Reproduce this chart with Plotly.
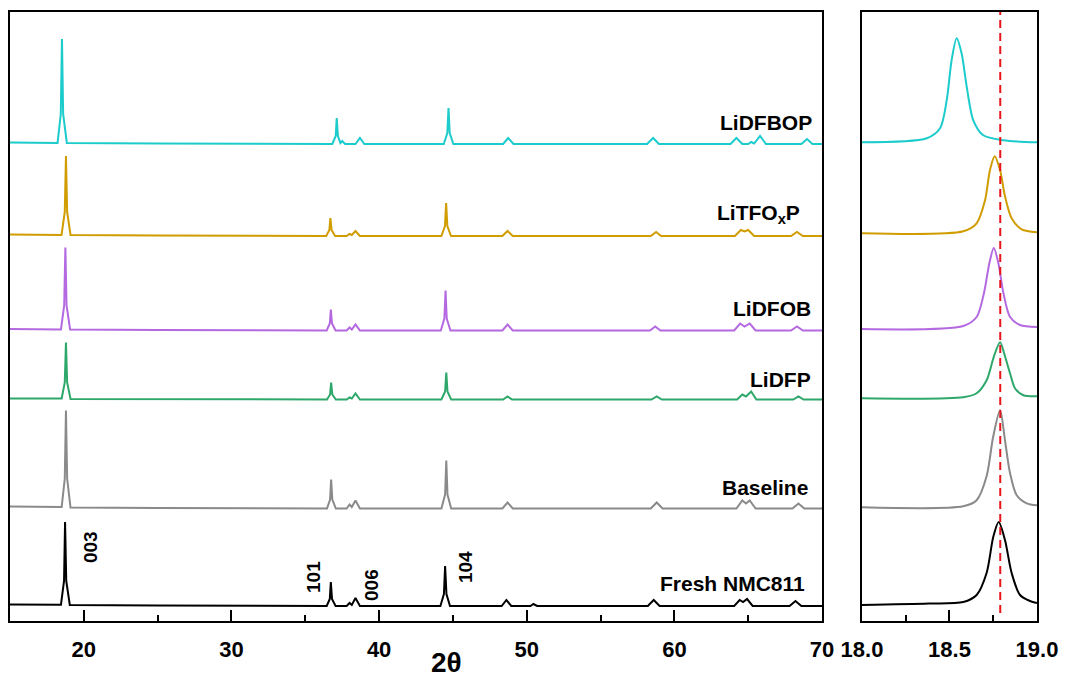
import plotly.graph_objects as go

# ---------------------------------------------------------------
# XRD patterns (2-theta, intensity above each curve's own baseline)
# ---------------------------------------------------------------
sample_names = ["Fresh NMC811", "Baseline", "LiDFP", "LiDFOB", "LiTFO<sub>x</sub>P", "LiDFBOP"]
sample_colors = ["#000000", "#8A8A8A", "#2EA86A", "#B469E0", "#D09C00", "#1CCBCB"]

# vertical stacking offsets (arb. units)
offsets_full = [15, 112.5, 221.5, 290.5, 385, 477]
offsets_zoom = [17, 113.7, 222.7, 292, 387.7, 478.7]

fresh_full = [
    (15.0, 1.5), (18.45, 1.2), (18.66, 25), (18.73, 84), (18.81, 25), (19.05, 1), (25.0, 0.5),
    (36.45, 0), (36.66, 7), (36.73, 24), (36.81, 7), (37.05, 0), (37.8, 0), (38.0, 3), (38.15, 1),
    (38.4, 8), (38.7, 0), (44.15, 0), (44.39, 12), (44.47, 40), (44.56, 12), (44.8, 0),
    (48.3, 0), (48.62, 6), (48.95, 0), (50.25, 0), (50.45, 2), (50.7, 0), (58.2, 0), (58.6, 6),
    (59.0, 0), (64.05, 0), (64.42, 6), (64.65, 4), (64.92, 7), (65.3, 0), (67.8, 0), (68.2, 5),
    (68.6, 0), (70.0, 0),
]
baseline_full = [
    (15.0, 2), (18.5, 1.5), (18.71, 30), (18.79, 98), (18.87, 30), (19.1, 1), (25.0, 0.5),
    (36.47, 0), (36.68, 9), (36.75, 29), (36.83, 9), (37.07, 0), (37.8, 0), (38.0, 4), (38.15, 1.5),
    (38.4, 8), (38.7, 0), (44.22, 0), (44.47, 14), (44.55, 48), (44.63, 14), (44.88, 0),
    (48.35, 0), (48.7, 6), (49.05, 0), (58.4, 0), (58.8, 6), (59.2, 0), (64.2, 0), (64.6, 8),
    (64.85, 5), (65.1, 8), (65.5, 0), (68.0, 0), (68.4, 5), (68.8, 0), (70.0, 0),
]
lidfp_full = [
    (15.0, 1), (18.5, 1), (18.71, 17), (18.79, 57), (18.87, 17), (19.1, 0.5),
    (36.47, 0), (36.68, 5), (36.75, 17), (36.83, 5), (37.07, 0), (37.8, 0), (38.0, 2), (38.15, 1),
    (38.4, 6), (38.7, 0), (44.22, 0), (44.47, 8), (44.55, 27), (44.63, 8), (44.88, 0),
    (48.4, 0), (48.7, 3), (49.0, 0), (58.45, 0), (58.8, 3), (59.15, 0), (64.25, 0), (64.6, 5),
    (64.85, 3), (65.2, 8), (65.55, 0), (68.05, 0), (68.4, 3), (68.75, 0), (70.0, 0),
]
lidfob_full = [
    (15.0, 1.5), (18.45, 1), (18.67, 25), (18.75, 83), (18.83, 25), (19.07, 1), (25.0, 0.5),
    (36.45, 0), (36.66, 7), (36.73, 21), (36.81, 7), (37.05, 0), (37.8, 0), (38.0, 3), (38.15, 1),
    (38.4, 6), (38.7, 0), (44.18, 0), (44.42, 12), (44.5, 40), (44.58, 12), (44.83, 0),
    (48.35, 0), (48.7, 6), (49.05, 0), (58.35, 0), (58.7, 4), (59.05, 0), (64.05, 0), (64.45, 7),
    (64.75, 4), (65.1, 7), (65.5, 0), (67.9, 0), (68.3, 4), (68.7, 0), (70.0, 0),
]
litfoxp_full = [
    (15.0, 1.5), (18.49, 1), (18.71, 24), (18.79, 80), (18.87, 24), (19.1, 1), (25.0, 0.5),
    (36.42, 0), (36.63, 6), (36.7, 18), (36.78, 6), (37.02, 0), (37.8, 0), (38.0, 2), (38.15, 1),
    (38.4, 5), (38.7, 0), (44.22, 0), (44.46, 10), (44.54, 33), (44.62, 10), (44.87, 0),
    (48.35, 0), (48.7, 5), (49.05, 0), (58.4, 0), (58.76, 4), (59.1, 0), (64.1, 0), (64.5, 6),
    (64.75, 4.5), (65.0, 6), (65.4, 0), (67.9, 0), (68.3, 4), (68.7, 0), (70.0, 0),
]
lidfbop_full = [
    (15.0, 1.5), (18.22, 1), (18.44, 30), (18.52, 105), (18.6, 30), (18.85, 1), (25.0, 0.5),
    (36.83, 0), (37.06, 8), (37.13, 26), (37.21, 8), (37.38, 1), (37.5, 3), (37.7, 0),
    (38.4, 0), (38.7, 6), (39.0, 0), (44.38, 0), (44.62, 11), (44.7, 36), (44.78, 11), (45.03, 0),
    (48.4, 0), (48.74, 6), (49.1, 0), (58.15, 0), (58.56, 6), (58.95, 0), (63.8, 0), (64.2, 6),
    (64.6, 0), (65.0, 0), (65.2, 2), (65.4, 0.5), (65.8, 8), (66.2, 0), (68.6, 0), (68.98, 5),
    (69.35, 0), (70.0, 0),
]

# (003) reflection, narrow 2-theta window
fresh_zoom = [
    (18.0, -1), (18.38, 0.5), (18.579, 2), (18.655, 9), (18.712, 31), (18.75, 67), (18.781, 82),
    (18.817, 64), (18.855, 31), (18.903, 9), (18.96, 3), (19.0, 1),
]
baseline_zoom = [
    (18.0, 0), (18.579, 1), (18.655, 7), (18.712, 31), (18.75, 71), (18.789, 97), (18.817, 67),
    (18.846, 34), (18.884, 12), (18.941, 4), (19.0, 2),
]
lidfp_zoom = [
    (18.0, 0), (18.579, 1), (18.655, 5), (18.712, 18), (18.754, 42), (18.789, 56), (18.817, 42),
    (18.846, 25), (18.874, 10), (18.922, 3), (19.0, 2),
]
lidfob_zoom = [
    (18.0, 0), (18.579, 3), (18.655, 12), (18.697, 36), (18.728, 66), (18.753, 81), (18.779, 66),
    (18.808, 36), (18.846, 12), (18.903, 4), (19.0, 2),
]
litfoxp_zoom = [
    (18.0, 0), (18.579, 2), (18.655, 10), (18.703, 33), (18.731, 63), (18.758, 77), (18.789, 63),
    (18.817, 37), (18.855, 15), (18.912, 4), (19.0, 1),
]
lidfbop_zoom = [
    (18.0, 0), (18.37, 4), (18.446, 14), (18.484, 42), (18.512, 82), (18.541, 104), (18.569, 89),
    (18.598, 56), (18.636, 22), (18.693, 7), (18.808, 2), (19.0, 0),
]

patterns_full = [fresh_full, baseline_full, lidfp_full, lidfob_full, litfoxp_full, lidfbop_full]
patterns_zoom = [fresh_zoom, baseline_zoom, lidfp_zoom, lidfob_zoom, litfoxp_zoom, lidfbop_zoom]

# label anchor points (2-theta, height) for the sample names
name_x = [68.99, 69.19, 69.39, 69.39, 68.64, 69.46]
name_y = [38, 134, 242, 313, 407, 499]

# Miller indices of the main reflections (2-theta, height)
hkl_text = ["003", "101", "006", "104"]
hkl_x = [20.42, 35.52, 39.45, 45.82]
hkl_y = [74, 44, 36, 54]

reference_position = 18.79

FONT = "Liberation Sans, Arial, sans-serif"

fig = go.Figure()

for pts, off, col in zip(patterns_full, offsets_full, sample_colors):
    xs = [p[0] for p in pts]
    ys = [p[1] + off for p in pts]
    fig.add_trace(go.Scatter(x=xs, y=ys, mode="lines", xaxis="x", yaxis="y",
                             line=dict(color=col, width=2), showlegend=False))

for pts, off, col in zip(patterns_zoom, offsets_zoom, sample_colors):
    xs = [p[0] for p in pts]
    ys = [p[1] + off for p in pts]
    fig.add_trace(go.Scatter(x=xs, y=ys, mode="lines", xaxis="x2", yaxis="y2",
                             line=dict(color=col, width=2, shape="spline", smoothing=0.8),
                             showlegend=False))

annotations = []
for name, xv, yv in zip(sample_names, name_x, name_y):
    annotations.append(dict(x=xv, y=yv, xref="x", yref="y", text=name, showarrow=False,
                            xanchor="right", yanchor="middle",
                            font=dict(family=FONT, size=21, color="black", weight="bold")))
for t, xv, yv in zip(hkl_text, hkl_x, hkl_y):
    annotations.append(dict(x=xv, y=yv, xref="x", yref="y", text=t, showarrow=False,
                            textangle=-90, xanchor="center", yanchor="middle",
                            font=dict(family=FONT, size=19, color="black", weight="bold")))
annotations.append(dict(x=0.4255, y=-0.068, xref="paper", yref="paper", text="2θ",
                        showarrow=False, xanchor="center", yanchor="middle",
                        font=dict(family=FONT, size=28, color="black", weight="bold")))

axis_common = dict(showline=True, linecolor="black", linewidth=2, mirror=True,
                   showgrid=False, zeroline=False, automargin=False)

fig.update_layout(
    width=1065, height=677,
    margin=dict(l=10, r=28, t=12, b=56, autoexpand=False),
    paper_bgcolor="white", plot_bgcolor="white",
    xaxis=dict(domain=[0, 0.7907], range=[15, 70], anchor="y",
               tick0=0, dtick=10, ticks="inside", ticklen=11, tickwidth=2, tickcolor="black",
               minor=dict(dtick=5, tick0=0, ticks="inside", ticklen=6, tickwidth=2, tickcolor="black"),
               ticklabelstandoff=8,
               tickfont=dict(family=FONT, size=22, color="black", weight="bold"),
               **axis_common),
    yaxis=dict(domain=[0, 1], range=[0, 609], anchor="x", showticklabels=False, ticks="",
               **axis_common),
    xaxis2=dict(domain=[0.8296, 1], range=[18, 19], anchor="y2",
                tick0=18, dtick=0.5, tickformat=".1f",
                ticks="inside", ticklen=11, tickwidth=2, tickcolor="black",
                minor=dict(dtick=0.25, tick0=18, ticks="inside", ticklen=6, tickwidth=2, tickcolor="black"),
                ticklabelstandoff=8,
                tickfont=dict(family=FONT, size=22, color="black", weight="bold"),
                **axis_common),
    yaxis2=dict(domain=[0, 1], range=[0, 609], anchor="x2", showticklabels=False, ticks="",
                **axis_common),
    annotations=annotations,
    shapes=[dict(type="line", xref="x2", yref="y2 domain", x0=reference_position,
                 x1=reference_position, y0=0.013, y1=1,
                 line=dict(color="#E8141C", width=2, dash="8px,5px"))],
)

fig.write_html("out.html")
